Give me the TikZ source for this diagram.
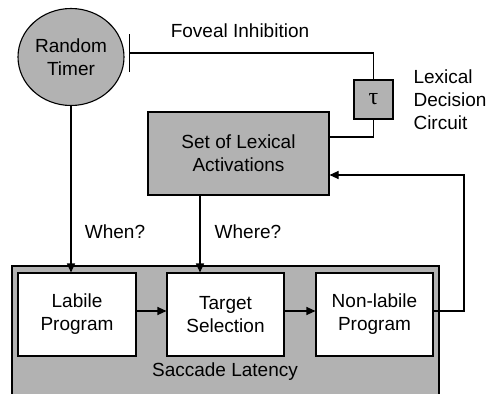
\documentclass[tikz,border=0pt]{standalone}
\usepackage{fontspec}
\setmainfont{Liberation Sans}
\newfontfamily\taufont{Liberation Serif}
\usetikzlibrary{arrows.meta,shapes.geometric}
\definecolor{boxgray}{gray}{0.70}
\begin{document}
\begin{tikzpicture}[x=1pt,y=-1pt,
  line width=1.1pt,
  txt/.style={font=\fontsize{19}{23}\selectfont, align=center, inner sep=0pt},
  graybox/.style={draw, fill=boxgray},
  whitebox/.style={draw, fill=white},
  arr/.style={-{Triangle[length=9pt,width=8pt]}},
  inhib/.style={-{Bar[width=38pt]}}
]
\useasboundingbox (0,0) rectangle (488,394);
% outer saccade latency region
\path[graybox] (12,266) rectangle (439,400);
\node[txt] (lat) at (225,372) {Saccade Latency};
% random timer
\node[graybox, ellipse, minimum width=106pt, minimum height=97pt, txt] (timer) at (71,57) {Random\\Timer};
% lexical activation box
\node[graybox, txt, minimum width=181pt, minimum height=83pt] (lex) at (238.5,153.5) {Set of Lexical\\Activations};
% tau box
\node[graybox, minimum width=39pt, minimum height=39pt, inner sep=0pt] (tau) at (373.5,99.5) {\taufont\fontsize{24}{24}\selectfont τ};
% boxes
\node[whitebox, txt, minimum width=118pt, minimum height=83pt] (lab) at (77,314.5) {Labile\\Program};
\node[whitebox, txt, minimum width=117pt, minimum height=83pt] (tgt) at (225.5,314.5) {Target\\Selection};
\node[whitebox, txt, minimum width=117pt, minimum height=83pt] (non) at (374.5,314.5) {Non-labile\\Program};
% labels
\node[txt] (fov) at (240,31) {Foveal Inhibition};
\node[txt, align=left, anchor=west] (ldc) at (413,100) {Lexical\\Decision\\Circuit};
\node[txt] (when) at (115,232) {When?};
\node[txt] (where) at (248,232) {Where?};
% coordinates
\coordinate (inh) at (129,53);
\coordinate (rt) at (464,311);
% connectors
\draw[inhib] (tau.north) |- (inh);
\draw (tau.south) |- (lex.east |- 0,137);
\draw[arr] (timer.south) -- (lab.north -| timer.south);
\draw[arr] (lex.south -| 200,0) -- (tgt.north -| 200,0);
\draw[arr] (lab.east |- 0,311) -- (tgt.west |- 0,311);
\draw[arr] (tgt.east |- 0,311) -- (non.west |- 0,311);
\draw[arr] (non.east |- rt) -- (rt) -- (rt |- 0,175) -- (lex.east |- 0,175);
\end{tikzpicture}
\end{document}
